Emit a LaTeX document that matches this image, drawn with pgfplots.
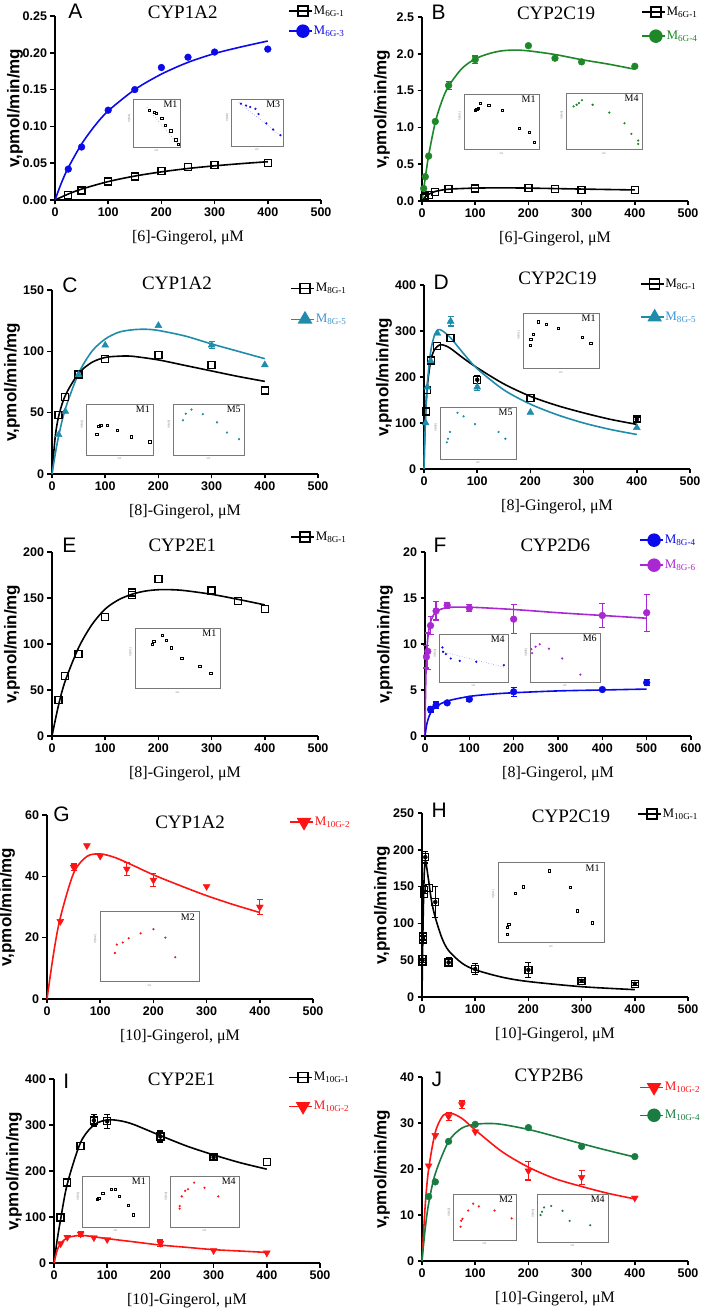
\documentclass[border=0pt]{standalone}
\usepackage{pgfplots}
\pgfplotsset{compat=1.18}
\usepackage{fontspec}
\setmainfont{Liberation Serif}
\newfontfamily\arial{Liberation Sans}
\definecolor{cblue}{RGB}{10,10,235}
\definecolor{cgreen}{RGB}{30,135,40}
\definecolor{cteal}{RGB}{30,140,170}
\definecolor{ctealtxt}{RGB}{60,150,210}
\definecolor{cpurple}{RGB}{170,40,210}
\definecolor{cred}{RGB}{255,20,20}
\definecolor{cgreenJ}{RGB}{25,125,65}
\definecolor{cframe}{RGB}{120,120,120}
\newcommand{\tickfont}{\arial\bfseries\fontsize{12.5}{12.5}\selectfont}
\newcommand{\ylabfont}{\arial\bfseries\fontsize{17}{17}\selectfont}
\newcommand{\xlabfont}{\fontsize{16}{16}\selectfont}
\newcommand{\titfont}{\fontsize{19}{19}\selectfont}
\newcommand{\letfont}{\arial\fontsize{21}{21}\selectfont}
\newcommand{\legfont}{\fontsize{13}{13}\selectfont}
\newcommand{\insfont}{\fontsize{10}{10}\selectfont}
\newcommand{\tinyfont}{\arial\fontsize{3}{3}\selectfont}
\pgfplotsset{
  mainax/.style={scale only axis, width=266pt, height=184pt, anchor=south west, clip=false,
    axis x line*=bottom, axis y line*=left, axis line style={line width=1.8pt,-},
    tick align=outside, major tick length=4.5pt, tick style={line width=1.6pt, black},
    xmin=0, xmax=500, xtick={0,100,200,300,400,500},
    ticklabel style={font=\tickfont}, /pgf/number format/assume math mode=true, scaled ticks=false,
    xlabel style={font=\xlabfont, at={(axis description cs:0.5,-0.225)}, anchor=base},
    ylabel style={font=\ylabfont, at={(axis description cs:-0.15,0.5)}, anchor=center},
    ylabel={v,pmol/min/mg},
    legend image code/.code={\draw[mark repeat=2,mark phase=2,##1] plot coordinates {(0pt,0pt) (14pt,0pt) (23pt,0pt)};},
    legend cell align=left,
  },
  leg/.style n args={3}{legend style={at={(#1,#2)}, anchor=north west, draw=none, fill=none, font=\legfont, row sep=#3, inner sep=0pt, nodes={inner sep=1pt}}},
  fit/.style={smooth, no markers, line width=1.6pt, forget plot, #1},
  sq/.style={only marks, mark=square, mark size=3.5pt, black, mark options={line width=1.3pt}, forget plot},
  ci/.style={only marks, mark=*, mark size=3.4pt, #1, forget plot},
  tu/.style={only marks, mark=triangle*, mark size=4pt, #1, forget plot},
  td/.style={only marks, mark=triangle*, mark size=4pt, mark options={rotate=180}, #1, forget plot},
  eb/.style={forget plot, color=#1, only marks, mark=none, error bars/y dir=both, error bars/y explicit, error bars/error bar style={line width=1.2pt, draw=#1}, error bars/error mark options={rotate=90, mark size=3pt, line width=1.2pt, draw=#1}},
  lsq/.style={black, line width=1.5pt, mark=square, mark size=5pt, mark options={line width=1.5pt}},
  lci/.style={#1, line width=1.5pt, mark=*, mark size=6pt},
  ltu/.style={#1, line width=1.5pt, mark=triangle*, mark size=7pt},
  ltd/.style={#1, line width=1.5pt, mark=triangle*, mark size=7pt, mark options={rotate=180}},
  insetax/.style={scale only axis, anchor=south west, xmin=0, xmax=1, ymin=0, ymax=1, xtick=\empty, ytick=\empty, axis line style={draw=cframe, line width=0.9pt}, axis background/.style={fill=white}, clip=false},
  isq/.style={mark=square, mark size=1.1pt, black, mark options={line width=0.4pt}},
  ici/.style={mark=*, mark size=0.9pt, #1},
}
\newcommand{\inset}[8]{%
  \begin{axis}[insetax, at={(#1pt,#2pt)}, width=#3pt, height=#4pt]
  \addplot[only marks, #6] coordinates {#7};
  #8
  \node[anchor=north east, font=\insfont, inner sep=1pt] at (rel axis cs:0.97,0.98) {#5};
  \node[anchor=north, font=\tinyfont, text=gray, inner sep=1pt] at (rel axis cs:0.5,-0.03) {v/c};
  \node[anchor=south, rotate=90, font=\tinyfont, text=gray, inner sep=1pt] at (rel axis cs:-0.02,0.6) {V(#5)};
  \end{axis}}
\begin{document}
\begin{tikzpicture}[x=1pt,y=1pt]
\useasboundingbox (0,0) rectangle (708,1314);
% ---------------- A
\begin{axis}[mainax, at={(55pt,1114pt)}, ymin=0, ymax=0.25, ytick={0,0.05,0.1,0.15,0.2,0.25}, yticklabel style={/pgf/number format/.cd, fixed, fixed zerofill, precision=2}, xlabel={[6]-Gingerol, μM}, leg={0.876}{1.06}{8pt}]
\addlegendimage{lsq}\addlegendentry{M\textsubscript{6G-1}}
\addlegendimage{lci=cblue}\addlegendentry{\textcolor{cblue}{M\textsubscript{6G-3}}}
\addplot[fit=black] coordinates {(0,0)(25,0.0081)(50,0.0148)(100,0.025)(150,0.0325)(200,0.0382)(250,0.0428)(300,0.0464)(350,0.0494)(400,0.052)};
\addplot[sq] coordinates {(25,0.007)(50,0.013)(100,0.025)(150,0.032)(200,0.039)(250,0.045)(300,0.048)(400,0.050)};
\addplot[fit=cblue] coordinates {(0,0)(12.5,0.024)(25,0.044)(50,0.076)(75,0.101)(100,0.121)(150,0.150)(200,0.171)(250,0.187)(300,0.199)(350,0.208)(400,0.216)};
\addplot[ci=cblue] coordinates {(25,0.042)(50,0.072)(100,0.122)(150,0.150)(200,0.180)(250,0.194)(300,0.201)(400,0.205)};
\node[anchor=base west, font=\letfont] at (axis description cs:0.037,0.984) {A};
\node[anchor=base, font=\titfont] at (axis description cs:0.48,0.984) {CYP1A2};
\end{axis}
\inset{133}{1167}{47}{48}{M1}{isq}{(0.34,0.77)(0.45,0.72)(0.50,0.70)(0.61,0.60)(0.69,0.46)(0.80,0.34)(0.91,0.15)(0.96,0.05)}{\addplot[dotted, gray, line width=0.5pt] coordinates {(0.3,0.82)(0.97,0.04)};}
\inset{231}{1168}{52}{47}{M3}{ici=cblue}{(0.19,0.9)(0.29,0.86)(0.37,0.83)(0.47,0.79)(0.53,0.68)(0.68,0.48)(0.81,0.35)(0.95,0.23)}{\addplot[dotted, cblue!60, line width=0.5pt] coordinates {(0.15,0.93)(0.97,0.2)};}
% ---------------- B
\begin{axis}[mainax, at={(422pt,1113pt)}, ymin=0, ymax=2.5, ytick={0,0.5,1,1.5,2,2.5}, yticklabel style={/pgf/number format/.cd, fixed, fixed zerofill, precision=1}, xlabel={[6]-Gingerol, μM}, leg={0.823}{1.06}{12pt}]
\addlegendimage{lsq}\addlegendentry{M\textsubscript{6G-1}}
\addlegendimage{lci=cgreen}\addlegendentry{\textcolor{cgreen}{M\textsubscript{6G-4}}}
\addplot[fit=black] coordinates {(0,0)(6.25,0.06)(12.5,0.09)(25,0.13)(50,0.16)(100,0.175)(150,0.178)(200,0.175)(300,0.162)(400,0.15)};
\addplot[sq] coordinates {(3.125,0.04)(6.25,0.06)(12.5,0.08)(25,0.12)(50,0.16)(100,0.17)(200,0.18)(250,0.165)(300,0.15)(400,0.145)};
\addplot[fit=cgreen] coordinates {(0,0)(3,0.15)(6.25,0.32)(12.5,0.62)(25,1.07)(37.5,1.36)(50,1.56)(75,1.8)(100,1.93)(125,2.0)(150,2.04)(175,2.05)(200,2.04)(250,1.99)(300,1.92)(350,1.86)(400,1.79)};
\addplot[ci=cgreen] coordinates {(3.125,0.17)(6.25,0.33)(12.5,0.61)(25,1.08)(50,1.57)(100,1.92)(200,2.11)(250,1.94)(300,1.89)(400,1.83)};
\addplot[eb=cgreen] coordinates {(50,1.57) +- (0,0.05) (100,1.92) +- (0,0.05)};
\node[anchor=base west, font=\letfont] at (axis description cs:0.023,0.984) {B};
\node[anchor=base, font=\titfont] at (axis description cs:0.504,0.984) {CYP2C19};
\end{axis}
\inset{464}{1165}{75}{55}{M1}{isq}{(0.15,0.70)(0.17,0.72)(0.19,0.74)(0.22,0.83)(0.33,0.79)(0.51,0.71)(0.74,0.38)(0.87,0.30)(0.94,0.13)}{}
\inset{566}{1165}{76}{56}{M4}{ici=cgreen}{(0.10,0.76)(0.14,0.79)(0.17,0.82)(0.21,0.87)(0.35,0.79)(0.57,0.65)(0.77,0.46)(0.86,0.27)(0.95,0.15)(0.95,0.09)}{}
% ---------------- C
\begin{axis}[mainax, at={(52pt,840pt)}, ymin=0, ymax=150, ytick={0,50,100,150}, xlabel={[8]-Gingerol, μM}, leg={0.895}{1.043}{18pt}]
\addlegendimage{lsq}\addlegendentry{M\textsubscript{8G-1}}
\addlegendimage{ltu=cteal}\addlegendentry{\textcolor{ctealtxt}{M\textsubscript{8G-5}}}
\addplot[fit=black] coordinates {(0,0)(6,30)(12.5,47)(25,64)(50,82)(75,91)(100,95)(125,96)(150,96)(200,93)(250,88.5)(300,84)(350,79.5)(400,75.5)};
\addplot[sq] coordinates {(12.5,48)(25,63)(50,81)(100,94)(200,97)(300,89)(400,68)};
\addplot[fit=cteal] coordinates {(0,0)(6,16)(12.5,31)(25,53)(50,82)(75,100)(100,110)(125,115.5)(150,117.5)(175,118)(200,117)(250,112.5)(300,106)(350,100)(400,94)};
\addplot[tu=cteal] coordinates {(12.5,32)(25,51)(50,81)(100,105)(200,121)(300,105)(400,89)};
\addplot[eb=cteal] coordinates {(300,105) +- (0,3)};
\node[anchor=base west, font=\letfont] at (axis description cs:0.026,0.984) {C};
\node[anchor=base, font=\titfont] at (axis description cs:0.47,1.005) {CYP1A2};
\end{axis}
\inset{86}{859}{67}{51}{M1}{isq}{(0.16,0.41)(0.19,0.56)(0.22,0.59)(0.32,0.58)(0.46,0.48)(0.68,0.36)(0.95,0.26)}{}
\inset{173}{859}{71}{51}{M5}{ici=cteal}{(0.14,0.68)(0.18,0.81)(0.26,0.89)(0.42,0.80)(0.62,0.64)(0.76,0.44)(0.93,0.31)}{}
% ---------------- D
\begin{axis}[mainax, at={(424pt,845pt)}, ymin=0, ymax=400, ytick={0,100,200,300,400}, xlabel={[8]-Gingerol, μM}, leg={0.811}{1.038}{20pt}]
\addlegendimage{lsq}\addlegendentry{M\textsubscript{8G-1}}
\addlegendimage{ltu=cteal}\addlegendentry{\textcolor{ctealtxt}{M\textsubscript{8G-5}}}
\addplot[fit=black] coordinates {(0,0)(1,60)(3.125,125)(6.25,180)(12.5,235)(20,260)(30,270)(40,268)(50,262)(75,240)(100,220)(150,185)(200,158)(250,138)(300,122)(350,108)(400,97)};
\addplot[sq] coordinates {(3.125,125)(6.25,172)(12.5,236)(25,267)(50,285)(100,194)(200,155)(400,108)};
\addplot[eb=black] coordinates {(100,194) +- (0,8) (400,108) +- (0,5)};
\addplot[fit=cteal] coordinates {(0,0)(1,50)(3.125,115)(6.25,185)(12.5,255)(20,292)(27,303)(35,300)(50,285)(75,250)(100,218)(150,172)(200,141)(250,118)(300,100)(350,86)(400,75)};
\addplot[tu=cteal] coordinates {(3.125,100)(6.25,178)(12.5,235)(25,295)(50,321)(100,178)(200,123)(400,90)};
\addplot[eb=cteal] coordinates {(50,321) +- (0,10) (100,178) +- (0,8)};
\node[anchor=base west, font=\letfont] at (axis description cs:0.023,0.978) {D};
\node[anchor=base, font=\titfont] at (axis description cs:0.502,1.0) {CYP2C19};
\end{axis}
\inset{523}{946}{76}{55}{M1}{isq}{(0.09,0.42)(0.10,0.52)(0.13,0.62)(0.20,0.84)(0.30,0.79)(0.46,0.73)(0.78,0.56)(0.89,0.45)}{}
\inset{440}{855}{76}{52}{M5}{ici=cteal}{(0.09,0.32)(0.105,0.39)(0.13,0.52)(0.23,0.89)(0.31,0.82)(0.46,0.67)(0.77,0.52)(0.86,0.39)}{}
% ---------------- E
\begin{axis}[mainax, at={(52pt,578pt)}, ymin=0, ymax=200, ytick={0,50,100,150,200}, xlabel={[8]-Gingerol, μM}, leg={0.895}{1.114}{8pt}]
\addlegendimage{lsq}\addlegendentry{M\textsubscript{8G-1}}
\addplot[fit=black] coordinates {(0,0)(12.5,34)(25,60)(50,96)(75,121)(100,138)(125,148)(150,154)(175,157.5)(200,159)(225,159)(250,158)(300,154)(350,148.5)(400,142.5)};
\addplot[sq] coordinates {(12.5,39.5)(25,65)(50,89)(100,129)(150,153.5)(150,156)(200,171)(300,158)(350,147)(400,138)};
\node[anchor=base west, font=\letfont] at (axis description cs:0.026,0.995) {E};
\node[anchor=base, font=\titfont] at (axis description cs:0.49,1.0) {CYP2E1};
\end{axis}
\inset{135}{626}{85}{60}{M1}{isq}{(0.20,0.73)(0.22,0.78)(0.32,0.88)(0.37,0.80)(0.43,0.67)(0.55,0.49)(0.76,0.36)(0.89,0.24)}{}
% ---------------- F
\begin{axis}[mainax, at={(425pt,578pt)}, xmax=600, xtick={0,100,200,300,400,500,600}, ymin=0, ymax=20, ytick={0,5,10,15,20}, xlabel={[8]-Gingerol, μM}, leg={0.805}{1.098}{13pt}]
\addlegendimage{lci=cblue}\addlegendentry{\textcolor{cblue}{M\textsubscript{8G-4}}}
\addlegendimage{lci=cpurple}\addlegendentry{\textcolor{cpurple}{M\textsubscript{8G-6}}}
\addplot[fit=cpurple] coordinates {(0,0)(1,4)(2,6.5)(3.125,8.2)(6.25,10.6)(12.5,12.4)(25,13.5)(50,13.95)(100,14.0)(200,13.75)(300,13.4)(400,13.1)(500,12.8)};
\addplot[ci=cpurple] coordinates {(3.125,8.6)(6.25,9.2)(12.5,12)(25,13.6)(50,14.2)(100,13.9)(200,12.7)(400,13.1)(500,13.4)};
\addplot[eb=cpurple] coordinates {(3.125,8.6) +- (0,1.2) (6.25,9.2) +- (0,2) (12.5,12) +- (0,1) (25,13.6) +- (0,1) (50,14.2) +- (0,0.3) (100,13.9) +- (0,0.4) (200,12.7) +- (0,1.6) (400,13.1) +- (0,1.3) (500,13.4) +- (0,2)};
\addplot[fit=cblue] coordinates {(0,0)(3,1.0)(6.25,1.7)(12.5,2.5)(25,3.2)(50,3.8)(100,4.3)(150,4.55)(200,4.7)(300,4.9)(400,5.0)(500,5.1)};
\addplot[ci=cblue] coordinates {(12.5,2.9)(25,3.35)(50,3.6)(100,4.0)(200,4.8)(400,5.05)(500,5.8)};
\addplot[eb=cblue] coordinates {(12.5,2.9) +- (0,0.3) (25,3.35) +- (0,0.35) (50,3.6) +- (0,0.15) (100,4.0) +- (0,0.25) (200,4.8) +- (0,0.5) (500,5.8) +- (0,0.35)};
\node[anchor=base west, font=\letfont] at (axis description cs:0.019,0.995) {F};
\node[anchor=base, font=\titfont] at (axis description cs:0.49,1.0) {CYP2D6};
\end{axis}
\inset{439}{632}{69}{48}{M4}{ici=cblue}{(0.05,0.72)(0.06,0.63)(0.10,0.58)(0.17,0.49)(0.30,0.44)(0.54,0.42)(0.94,0.35)}{\addplot[dotted, cblue!60, line width=0.5pt] coordinates {(0.05,0.63)(0.94,0.31)};}
\inset{530}{632}{70}{49}{M6}{ici=cpurple}{(0.02,0.67)(0.03,0.59)(0.08,0.72)(0.14,0.77)(0.27,0.68)(0.46,0.48)(0.72,0.15)}{}
% ---------------- G
\begin{axis}[mainax, at={(47pt,315pt)}, ymin=0, ymax=60, ytick={0,20,40,60}, xlabel={[10]-Gingerol, μM}, leg={0.91}{0.995}{8pt}]
\addlegendimage{ltd=cred}\addlegendentry{\textcolor{cred}{M\textsubscript{10G-2}}}
\addplot[fit=cred] coordinates {(0,0)(12.5,15)(25,26.5)(50,41)(75,46.5)(100,47.3)(125,46.3)(150,44.5)(200,40.5)(250,37)(300,33.7)(350,30.8)(400,28.2)};
\addplot[td=cred] coordinates {(25,25.3)(50,43)(75,50)(100,46.6)(150,42.4)(200,38.8)(300,36.7)(400,30)};
\addplot[eb=cred] coordinates {(50,43) +- (0,1) (150,42.4) +- (0,2) (200,38.8) +- (0,2) (400,30) +- (0,2.5)};
\node[anchor=base west, font=\letfont] at (axis description cs:0.011,0.962) {G};
\node[anchor=base, font=\titfont] at (axis description cs:0.538,0.929) {CYP1A2};
\end{axis}
\inset{100}{333}{99}{70}{M2}{ici=cred}{(0.15,0.40)(0.17,0.52)(0.23,0.55)(0.29,0.61)(0.41,0.68)(0.54,0.74)(0.66,0.62)(0.76,0.34)}{}
% ---------------- H
\begin{axis}[mainax, at={(422pt,317pt)}, ymin=0, ymax=250, ytick={0,50,100,150,200,250}, xlabel={[10]-Gingerol, μM}, leg={0.808}{1.027}{8pt}]
\addlegendimage{lsq}\addlegendentry{M\textsubscript{10G-1}}
\addplot[fit=black] coordinates {(0,0)(0.5,30)(1,55)(2,100)(3.125,140)(4.5,172)(6.25,185)(8,180)(12.5,158)(18,130)(25,108)(37.5,80)(50,63)(75,46)(100,37)(150,27)(200,21)(300,14)(400,10)};
\addplot[sq] coordinates {(0.78,48)(1.0,52)(1.56,78)(2,82)(3.125,140)(3.5,145)(6.25,190)(12.5,148)(25,129)(50,47)(100,38)(200,37)(300,22)(400,18)};
\addplot[eb=black] coordinates {(1.0,50) +- (0,6) (2,80) +- (0,6) (3.125,143) +- (0,8) (6.25,190) +- (0,8) (25,129) +- (0,21) (50,47) +- (0,6) (100,38) +- (0,7) (200,37) +- (0,10) (300,22) +- (0,2) (400,18) +- (0,2)};
\node[anchor=base west, font=\letfont] at (axis description cs:0.023,0.973) {H};
\node[anchor=base, font=\titfont] at (axis description cs:0.56,0.951) {CYP2C19};
\end{axis}
\inset{498}{372}{106}{80}{M1}{isq}{(0.09,0.10)(0.09,0.18)(0.10,0.22)(0.16,0.61)(0.24,0.69)(0.48,0.89)(0.68,0.68)(0.75,0.39)(0.89,0.24)}{}
% ---------------- I
\begin{axis}[mainax, at={(54pt,51pt)}, ymin=0, ymax=400, ytick={0,100,200,300,400}, xlabel={[10]-Gingerol, μM}, leg={0.88}{1.043}{17pt}]
\addlegendimage{lsq}\addlegendentry{M\textsubscript{10G-1}}
\addlegendimage{ltd=cred}\addlegendentry{\textcolor{cred}{M\textsubscript{10G-2}}}
\addplot[fit=black] coordinates {(0,0)(6,50)(12.5,95)(25,172)(50,262)(75,300)(100,311)(125,309)(150,301)(200,277)(250,254)(300,235)(350,218)(400,204)};
\addplot[sq] coordinates {(12.5,99)(25,175)(50,255)(75,310)(100,308)(200,275)(300,230)(400,220)};
\addplot[eb=black] coordinates {(75,310) +- (0,12) (100,308) +- (0,15) (200,275) +- (0,12) (300,230) +- (0,5)};
\addplot[fit=cred] coordinates {(0,0)(6,28)(12.5,42)(25,55)(50,60)(75,57)(100,53)(150,46)(200,39)(250,34)(300,29)(350,26)(400,23)};
\addplot[td=cred] coordinates {(12.5,42)(25,56)(50,63)(75,55)(100,51)(200,43)(300,27)(400,22)};
\addplot[eb=cred] coordinates {(50,63) +- (0,5) (200,43) +- (0,7)};
\node[anchor=base west, font=\letfont] at (axis description cs:0.022,0.951) {I};
\node[anchor=base, font=\titfont] at (axis description cs:0.48,0.962) {CYP2E1};
\end{axis}
\inset{82}{87}{67}{51}{M1}{isq}{(0.23,0.55)(0.25,0.56)(0.31,0.67)(0.43,0.74)(0.50,0.74)(0.55,0.61)(0.69,0.42)(0.76,0.24)}{}
\inset{170}{87}{69}{51}{M4}{ici=cred}{(0.14,0.36)(0.14,0.41)(0.17,0.60)(0.22,0.71)(0.26,0.74)(0.35,0.87)(0.50,0.77)(0.70,0.60)}{}
% ---------------- J
\begin{axis}[mainax, at={(422pt,53pt)}, ymin=0, ymax=40, ytick={0,10,20,30,40}, xlabel={[10]-Gingerol, μM}, leg={0.816}{0.978}{15pt}]
\addlegendimage{ltd=cred}\addlegendentry{\textcolor{cred}{M\textsubscript{10G-2}}}
\addlegendimage{lci=cgreenJ}\addlegendentry{\textcolor{cgreenJ}{M\textsubscript{10G-4}}}
\addplot[fit=cred] coordinates {(0,0)(6,12)(12.5,20)(25,28)(40,31.7)(55,32.1)(75,31)(100,28.5)(150,23.8)(200,20.4)(250,17.9)(300,16.2)(350,14.7)(400,13.5)};
\addplot[td=cred] coordinates {(12.5,20.7)(25,27.3)(50,31.4)(75,34)(100,28.1)(200,19.6)(300,18.2)(400,13.7)};
\addplot[eb=cred] coordinates {(50,31.4) +- (0,0.8) (75,34) +- (0,0.8) (200,19.6) +- (0,2) (300,18.2) +- (0,1.5)};
\addplot[fit=cgreenJ] coordinates {(0,0)(6,7)(12.5,12.5)(25,19)(50,26)(75,28.9)(100,29.7)(125,29.9)(150,29.7)(200,28.6)(250,27.1)(300,25.5)(350,24)(400,22.6)};
\addplot[ci=cgreenJ] coordinates {(12.5,14)(25,17.2)(50,26)(100,29.7)(200,29)(300,24.9)(400,22.7)};
\node[anchor=base west, font=\letfont] at (axis description cs:0.023,0.951) {J};
\node[anchor=base, font=\titfont] at (axis description cs:0.477,0.978) {CYP2B6};
\end{axis}
\inset{453}{74}{63}{46}{M2}{ici=cred}{(0.12,0.29)(0.13,0.42)(0.15,0.46)(0.24,0.64)(0.32,0.79)(0.41,0.73)(0.66,0.64)(0.93,0.47)}{}
\inset{537}{72}{71}{48}{M4}{ici=cgreenJ}{(0.05,0.56)(0.07,0.63)(0.10,0.72)(0.20,0.75)(0.36,0.65)(0.46,0.44)(0.75,0.35)}{}
\end{tikzpicture}
\end{document}
